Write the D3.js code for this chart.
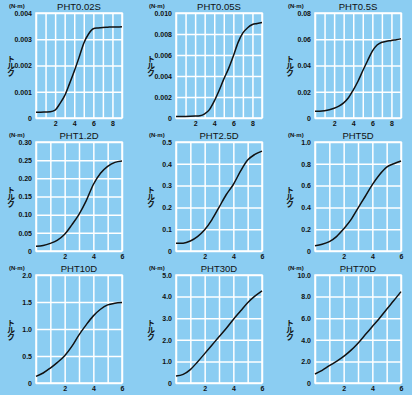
<!DOCTYPE html>
<html>
<head>
<meta charset="utf-8">
<script src="https://cdn.jsdelivr.net/npm/d3@7"></script>
<style>
  html, body { margin: 0; padding: 0; background: #8bcdf2; }
  svg { display: block; }
  .tick text { font-family: "Liberation Sans", Arial, sans-serif; font-weight: 700; font-size: 7px; fill: #111; }
</style>
</head>
<body>
<svg id="chart" width="412" height="395"></svg>
<script>
// 9 torque curves (PHT series)
var titles = ['PHT0.02S', 'PHT0.05S', 'PHT0.5S', 'PHT1.2D', 'PHT2.5D', 'PHT5D', 'PHT10D', 'PHT30D', 'PHT70D'];
var xMaxes = [9, 9, 9, 6, 6, 6, 6, 6, 6];
var yMaxes = [0.004, 0.010, 0.08, 0.30, 0.5, 1.0, 2.0, 5.0, 10.0];
var yTickSteps = [0.001, 0.002, 0.02, 0.05, 0.1, 0.2, 0.5, 1.0, 2.0];
var yTickDigits = [3, 3, 2, 2, 1, 1, 1, 1, 1];
var xLabelsLong = [2, 4, 6, 8];
var xLabelsShort = [2, 4, 6];

var speedLong = [0, 0.5, 1, 1.5, 2, 2.5, 3, 3.5, 4, 4.5, 5, 5.5, 6, 6.5, 7, 7.5, 8, 8.5, 9];
var speedShort = [0, 0.5, 1, 1.5, 2, 2.5, 3, 3.5, 4, 4.5, 5, 5.5, 6];

var torque002S = [0.00022, 0.00022, 0.00023, 0.00024, 0.0003, 0.00055, 0.00085, 0.0013, 0.00178, 0.0023,
                  0.00285, 0.0032, 0.0034, 0.00343, 0.00345, 0.00346, 0.00347, 0.00347, 0.00348];
var torque005S = [0.00015, 0.00015, 0.00015, 0.00016, 0.00018, 0.00022, 0.0004, 0.0008, 0.0016, 0.0026,
                  0.0037, 0.0047, 0.0059, 0.0072, 0.0081, 0.0086, 0.0089, 0.009, 0.0091];
var torque05S  = [0.0051, 0.0052, 0.0056, 0.0063, 0.0074, 0.009, 0.0115, 0.0154, 0.0213, 0.028,
                  0.036, 0.0436, 0.051, 0.0556, 0.0577, 0.0585, 0.059, 0.0597, 0.0603];
var torque12D  = [0.013, 0.015, 0.021, 0.030, 0.046, 0.072, 0.101, 0.138, 0.183, 0.214, 0.233, 0.244, 0.248];
var torque25D  = [0.035, 0.036, 0.046, 0.066, 0.097, 0.143, 0.2, 0.258, 0.305, 0.366, 0.417, 0.443, 0.458];
var torque5D   = [0.049, 0.062, 0.086, 0.132, 0.203, 0.286, 0.394, 0.5, 0.609, 0.70, 0.77, 0.80, 0.825];
var torque10D  = [0.123, 0.185, 0.277, 0.382, 0.505, 0.677, 0.892, 1.077, 1.243, 1.366, 1.446, 1.477, 1.49];
var torque30D  = [0.325, 0.40, 0.62, 0.975, 1.36, 1.75, 2.14, 2.52, 2.94, 3.33, 3.72, 4.02, 4.27];
var torque70D  = [0.83, 1.17, 1.6, 2.0, 2.46, 3.02, 3.69, 4.46, 5.23, 6.0, 6.83, 7.63, 8.46];

var torques = [torque002S, torque005S, torque05S, torque12D, torque25D, torque5D, torque10D, torque30D, torque70D];

(function () {
    // plot boxes: column lefts / row tops (px)
    var colLeft = [36, 176, 315];
    var plotW = 86;
    var rowTop = [13, 142, 275];
    var rowH = [105, 109, 108];

    var svg = d3.select('#chart');
    var font = '"Liberation Sans", Arial, sans-serif';

    titles.forEach(function (title, i) {
        var col = i % 3, row = Math.floor(i / 3);
        var left = colLeft[col], top = rowTop[row];
        var w = plotW, h = rowH[row];
        var xs = xMaxes[i] === 9 ? speedLong : speedShort;
        var labels = xMaxes[i] === 9 ? xLabelsLong : xLabelsShort;

        var x = d3.scaleLinear().domain([0, xMaxes[i]]).range([0, w]);
        var y = d3.scaleLinear().domain([0, yMaxes[i]]).range([h, 0]);

        var g = svg.append('g').attr('transform', 'translate(' + left + ',' + top + ')');

        var yTicks = d3.range(0, yMaxes[i] + yTickSteps[i] / 2, yTickSteps[i]);
        var yAxis = d3.axisLeft(y)
            .tickValues(yTicks)
            .tickSize(-w)
            .tickPadding(4)
            .tickFormat(function (d) { return d === 0 ? '0' : d.toFixed(yTickDigits[i]); });

        var xAxis = d3.axisBottom(x)
            .tickValues(d3.range(0, xMaxes[i] + 1))
            .tickSize(-h)
            .tickPadding(3)
            .tickFormat(function (d) { return labels.indexOf(d) !== -1 ? d : ''; });

        var ga = g.append('g').attr('transform', 'translate(0,' + h + ')').call(xAxis);
        var gy = g.append('g').call(yAxis);
        [ga, gy].forEach(function (a) {
            a.select('.domain').remove();
            a.selectAll('.tick line').attr('stroke', '#fff').attr('stroke-width', 1.5);
        });

        g.append('rect')
            .attr('width', w).attr('height', h)
            .attr('fill', 'none')
            .attr('stroke', '#fff')
            .attr('stroke-width', 1.5);

        var line = d3.line()
            .x(function (d) { return x(d[0]); })
            .y(function (d) { return y(d[1]); })
            .curve(d3.curveMonotoneX);

        g.append('path')
            .datum(xs.map(function (v, k) { return [v, torques[i][k]]; }))
            .attr('fill', 'none')
            .attr('stroke', '#111')
            .attr('stroke-width', 1.5)
            .attr('d', line);

        // title
        g.append('text')
            .attr('x', w / 2).attr('y', -3)
            .attr('text-anchor', 'middle')
            .attr('font-family', font)
            .attr('font-size', 9.5)
            .attr('fill', '#111')
            .text(title);

        // unit
        g.append('text')
            .attr('x', -27).attr('y', -5)
            .attr('font-family', font)
            .attr('font-size', 6)
            .attr('font-weight', 700)
            .attr('fill', '#111')
            .text('(N·m)');

        // トルク, vertical writing
        g.append('text')
            .attr('x', -25).attr('y', h / 2)
            .attr('font-family', '"Noto Sans CJK JP", sans-serif')
            .attr('font-size', 8)
            .attr('font-weight', 700)
            .attr('fill', '#111')
            .attr('text-anchor', 'middle')
            .style('writing-mode', 'vertical-rl')
            .style('letter-spacing', '-1px')
            .text('トルク');
    });
})();
</script>
</body>
</html>
